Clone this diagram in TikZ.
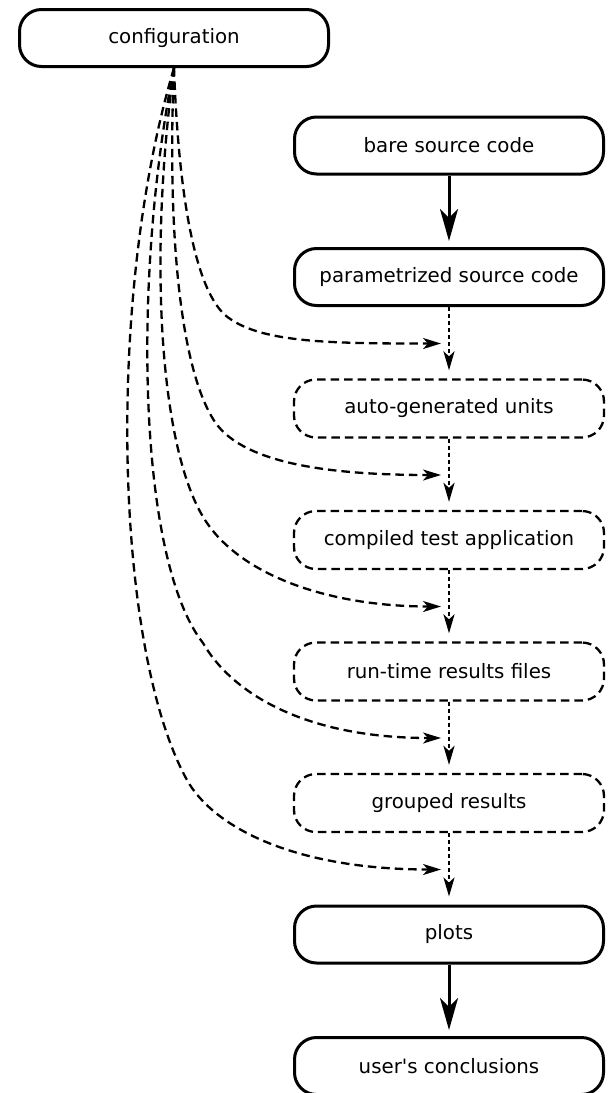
\documentclass[tikz,border=0pt]{standalone}
\usepackage{fontspec}
\setmainfont{DejaVu Sans}
\usetikzlibrary{arrows.meta}
\begin{document}
\begin{tikzpicture}[x=1pt,y=-1pt,
  box/.style={draw, line width=3pt, rounded corners=22pt, minimum width=309pt,
    minimum height=57pt, inner sep=0pt, font=\fontsize{19.8}{23}\selectfont},
  dbox/.style={box, line width=2.3pt, dash pattern=on 8.5pt off 5pt,
    minimum width=310pt, minimum height=58pt},
  solidarrow/.style={line width=3pt, shorten >=6pt,
    -{Stealth[length=32pt,width=18pt,inset=9pt]}},
  dotarrow/.style={line width=2.3pt, dash pattern=on 4pt off 3pt, shorten >=8pt,
    -{Stealth[length=19pt,width=11pt,inset=5pt]}},
  dasharrow/.style={line width=2.3pt, dash pattern=on 8.5pt off 5pt,
    -{Stealth[length=18pt,width=11pt,inset=5pt]}}]
\useasboundingbox (0,0) rectangle (608,1093);

\node[box] (config) at (174,38) {configuration};
\node[box]  (bare)  at (449,145.5) {bare source code};
\node[box]  (param) at (449,277)   {parametrized source code};
\node[dbox] (auto)  at (449,408.5) {auto-generated units};
\node[dbox] (comp)  at (449,540)   {compiled test application};
\node[dbox] (run)   at (449,671.5) {run-time results files};
\node[dbox] (group) at (449,803)   {grouped results};
\node[box]  (plots) at (449,934.5) {plots};
\node[box]  (user)  at (449,1066)  {user\textquotesingle s conclusions};

\draw[solidarrow] (bare) -- (param);
\draw[dotarrow] (param) -- (auto);
\draw[dotarrow] (auto) -- (comp);
\draw[dotarrow] (comp) -- (run);
\draw[dotarrow] (run) -- (group);
\draw[dotarrow] (group) -- (plots);
\draw[solidarrow] (plots) -- (user);

\coordinate (e1) at (441,343.5);
\coordinate (e2) at (441,475);
\coordinate (e3) at (441,606.5);
\coordinate (e4) at (441,738);
\coordinate (e5) at (441,869.5);

\draw[dasharrow] (config.south) .. controls (178,180) and (192,285) .. (225,315)
  .. controls (258,343) and (330,343.5) .. (e1);
\draw[dasharrow] (config.south) .. controls (167,230) and (180,370) .. (215,422)
  .. controls (245,466) and (340,475) .. (e2);
\draw[dasharrow] (config.south) .. controls (148,260) and (160,450) .. (205,520)
  .. controls (241,576) and (330,606.5) .. (e3);
\draw[dasharrow] (config.south) .. controls (132,280) and (138,560) .. (203,643)
  .. controls (230,690) and (300,738) .. (e4);
\draw[dasharrow] (config.south) .. controls (105,300) and (115,650) .. (187,780)
  .. controls (212,825) and (290,869.5) .. (e5);
\end{tikzpicture}
\end{document}
